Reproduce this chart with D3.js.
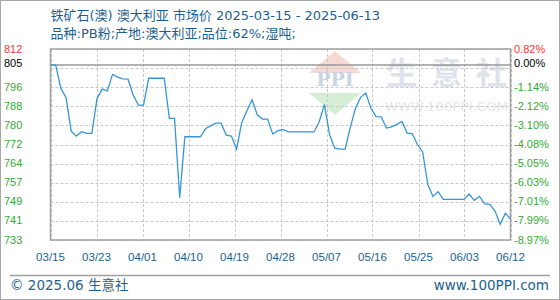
<!DOCTYPE html>
<html>
<head>
<meta charset="utf-8">
<script src="https://cdn.jsdelivr.net/npm/d3@7"></script>
<style>
  html, body { margin: 0; padding: 0; background: #fff; }
  #chart { width: 560px; height: 300px; }
</style>
</head>
<body>
<div id="chart"></div>
<script>
// Daily prices, 03/15 .. 06/12 (index 0..89)
const prices = [
  805.4, 805.4, 795.7, 792.0, 778.0, 776.0, 777.8, 777.1, 777.1, 791.5,
  795.4, 794.7, 801.5, 800.4, 799.6, 799.5, 793.0, 788.8, 788.8, 799.9,
  799.9, 799.9, 799.9, 783.3, 783.3, 750.5, 775.7, 775.7, 775.7, 775.7,
  779.0, 780.3, 781.3, 781.3, 776.4, 776.0, 770.6, 781.5, 786.5, 791.0,
  784.8, 783.0, 783.0, 776.8, 778.2, 778.7, 777.7, 777.7, 777.7, 777.7,
  777.7, 777.7, 782.0, 789.0, 776.5, 771.0, 770.6, 770.6, 779.5, 787.5,
  792.0, 793.8, 787.5, 784.0, 783.9, 779.3, 779.8, 780.8, 782.0, 777.2,
  777.0, 772.5, 769.4, 756.0, 751.0, 753.0, 749.8, 749.8, 749.8, 749.8,
  749.8, 752.0, 749.4, 751.0, 747.9, 747.7, 745.0, 739.5, 744.1, 741.7
];
const basePrice = 805.4;
const yMin = 733, yMax = 812;

const xTickLabels = ['03/15', '03/23', '04/01', '04/10', '04/19', '04/28',
  '05/07', '05/16', '05/25', '06/03', '06/12'];
const leftTickLabels = ['733', '741', '749', '757', '764', '772', '780', '788', '796', '', '812'];
const rightTickLabels = ['-8.97%', '-7.99%', '-7.01%', '-6.03%', '-5.05%', '-4.08%',
  '-3.10%', '-2.12%', '-1.14%', '', '0.82%'];
const baseLabelLeft = '805';
const baseLabelRight = '0.00%';

const title1 = '铁矿石(澳) 澳大利亚 市场价 2025-03-15 - 2025-06-13';
const title2 = '品种:PB粉;产地:澳大利亚;品位:62%;湿吨;';

const width = 560, height = 300;
const margin = {top: 49, left: 50.5, right: 49.5, bottom: 60};
const plotRight = width - margin.right;
const plotBottom = height - margin.bottom;

const blue = '#1d5f8e';
const green = '#33aa33';
const labelFont = "'Liberation Sans', Arial, sans-serif";
const titleFont = "'DejaVu Sans', 'Noto Sans CJK SC', sans-serif";

let svg = d3.select('#chart').append('svg')
  .attr('width', width)
  .attr('height', height);

// Outer frame
svg.append('rect')
  .attr('x', 0.5).attr('y', 0.5)
  .attr('width', width - 1).attr('height', height - 1)
  .attr('fill', '#fff')
  .attr('stroke', '#a8a8a8');

// Scales
let x = d3.scaleLinear()
  .domain([0, prices.length - 1])
  .range([margin.left, plotRight]);

let y = d3.scaleLinear()
  .domain([yMin, yMax])
  .range([plotBottom, margin.top]);

let gridY = leftTickLabels.map((d, i) => yMin + i * (yMax - yMin) / (leftTickLabels.length - 1));
let gridX = xTickLabels.map((d, i) => i * (prices.length - 1) / (xTickLabels.length - 1));

// Watermark
let wm = svg.append('g');
wm.append('path')
  .attr('d', 'M335,51 L361,73 L309,73 Z')
  .attr('fill', '#f7d9d4');
wm.append('path')
  .attr('d', 'M309,93 L361,93 L335,115 Z')
  .attr('fill', '#d6eed6');
wm.append('text')
  .attr('x', 335).attr('y', 86)
  .attr('text-anchor', 'middle')
  .attr('font-family', "'DejaVu Serif', serif")
  .attr('font-weight', 'bold')
  .attr('font-size', 19)
  .attr('fill', '#cbd3e4')
  .text('PPI');
wm.append('text')
  .attr('x', 386).attr('y', 84)
  .attr('font-family', "'Noto Sans CJK SC', sans-serif")
  .attr('font-weight', 'bold')
  .attr('font-size', 31)
  .attr('textLength', 121)
  .attr('fill', '#dde2eb')
  .text('生意社');
wm.append('text')
  .attr('x', 385).attr('y', 111)
  .attr('font-family', "'DejaVu Sans', sans-serif")
  .attr('font-size', 13)
  .attr('textLength', 123)
  .attr('fill', '#e6e6e6')
  .text('WWW.100PPI.COM');

// Grid
svg.append('g')
  .selectAll('line')
  .data(gridY)
  .enter().append('line')
    .attr('x1', margin.left).attr('x2', plotRight)
    .attr('y1', d => Math.round(y(d)) + 0.5)
    .attr('y2', d => Math.round(y(d)) + 0.5)
    .attr('stroke', '#c8c8c8')
    .attr('stroke-dasharray', '3,2');

svg.append('g')
  .selectAll('line')
  .data(gridX)
  .enter().append('line')
    .attr('x1', d => Math.round(x(d)) + 0.5)
    .attr('x2', d => Math.round(x(d)) + 0.5)
    .attr('y1', margin.top).attr('y2', plotBottom)
    .attr('stroke', '#c8c8c8')
    .attr('stroke-dasharray', '3,2');

// Base price line
svg.append('line')
  .attr('x1', margin.left).attr('x2', plotRight)
  .attr('y1', y(basePrice)).attr('y2', y(basePrice))
  .attr('stroke', '#999')
  .attr('stroke-width', 1.5);

// Plot frame
svg.append('rect')
  .attr('x', margin.left).attr('y', margin.top)
  .attr('width', plotRight - margin.left)
  .attr('height', plotBottom - margin.top)
  .attr('fill', 'none')
  .attr('stroke', '#a0a0a0')
  .attr('stroke-width', 1.5);

// Price line
svg.append('path')
  .datum(prices)
  .attr('fill', 'none')
  .attr('stroke', '#3796d6')
  .attr('stroke-width', 1.3)
  .attr('d', d3.line()
    .x((d, i) => x(i))
    .y(d => y(d)));

// Y labels
const tickColor = i => i === leftTickLabels.length - 1 ? '#ff3333' : green;

svg.append('g')
  .selectAll('text')
  .data(gridY)
  .enter().append('text')
    .attr('x', 4)
    .attr('y', d => y(d) + 3.5)
    .attr('font-family', labelFont)
    .attr('font-size', 11)
    .attr('fill', (d, i) => tickColor(i))
    .text((d, i) => leftTickLabels[i]);

svg.append('g')
  .selectAll('text')
  .data(gridY)
  .enter().append('text')
    .attr('x', 514)
    .attr('y', d => y(d) + 3.5)
    .attr('font-family', labelFont)
    .attr('font-size', 11)
    .attr('fill', (d, i) => tickColor(i))
    .text((d, i) => rightTickLabels[i]);

svg.append('text')
  .attr('x', 4).attr('y', y(basePrice) + 2)
  .attr('font-family', labelFont)
  .attr('font-size', 11)
  .attr('fill', '#000')
  .text(baseLabelLeft);
svg.append('text')
  .attr('x', 514).attr('y', y(basePrice) + 2)
  .attr('font-family', labelFont)
  .attr('font-size', 11)
  .attr('fill', '#000')
  .text(baseLabelRight);

// X labels
svg.append('g')
  .selectAll('text')
  .data(gridX)
  .enter().append('text')
    .attr('x', d => x(d))
    .attr('y', 261)
    .attr('text-anchor', 'middle')
    .attr('font-family', labelFont)
    .attr('font-size', 11.5)
    .attr('fill', blue)
    .text((d, i) => xTickLabels[i]);

// Titles
svg.append('text')
  .attr('x', 50.5).attr('y', 20)
  .attr('font-family', titleFont)
  .attr('font-size', 13)
  .attr('fill', blue)
  .text(title1);
svg.append('text')
  .attr('x', 50.5).attr('y', 38)
  .attr('font-family', titleFont)
  .attr('font-size', 13)
  .attr('fill', blue)
  .text(title2);

// Footer
svg.append('line')
  .attr('x1', 10).attr('x2', 550)
  .attr('y1', 275.5).attr('y2', 275.5)
  .attr('stroke', '#a0a0a0')
  .attr('stroke-width', 1.5);
svg.append('text')
  .attr('x', 10).attr('y', 290)
  .attr('font-family', titleFont)
  .attr('font-size', 13.5)
  .attr('fill', blue)
  .text('© 2025.06 生意社');
svg.append('text')
  .attr('x', 549).attr('y', 290)
  .attr('text-anchor', 'end')
  .attr('font-family', titleFont)
  .attr('font-size', 13.5)
  .attr('fill', blue)
  .text('www.100PPI.com');
</script>
</body>
</html>
